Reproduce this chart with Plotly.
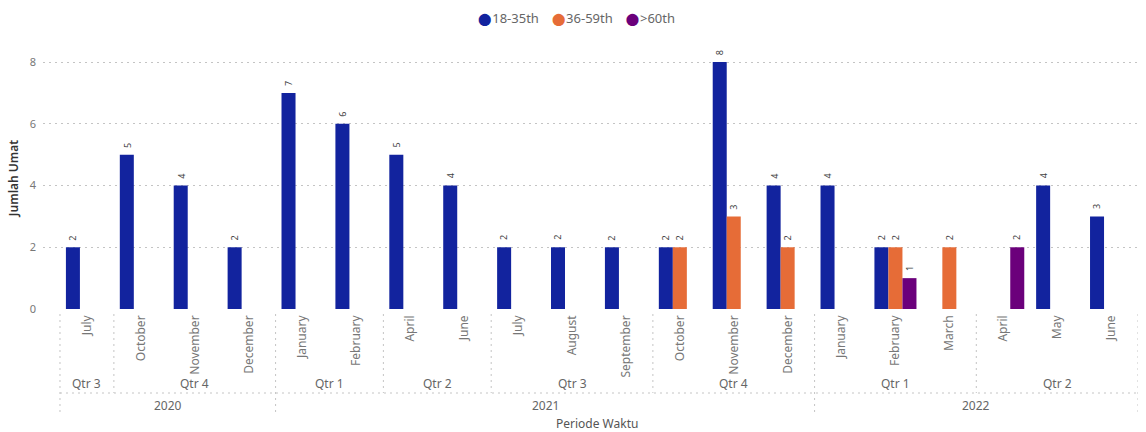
import plotly.graph_objects as go

# Monthly counts per age group, with the month / quarter / year hierarchy
months = ["July", "October", "November", "December",
          "January", "February", "April", "June",
          "July", "August", "September", "October", "November", "December",
          "January", "February", "March", "April", "May", "June"]
quarters = ["Qtr 3", "Qtr 4", "Qtr 4", "Qtr 4",
            "Qtr 1", "Qtr 1", "Qtr 2", "Qtr 2",
            "Qtr 3", "Qtr 3", "Qtr 3", "Qtr 4", "Qtr 4", "Qtr 4",
            "Qtr 1", "Qtr 1", "Qtr 1", "Qtr 2", "Qtr 2", "Qtr 2"]
years = ["2020"] * 4 + ["2021"] * 10 + ["2022"] * 6

age_18_35 = [2, 5, 4, 2, 7, 6, 5, 4, 2, 2, 2, 2, 8, 4, 4, 2, None, None, 4, 3]
age_36_59 = [None] * 11 + [2, 3, 2, None, 2, 2, None, None, None]
age_60 = [None] * 15 + [1, None, 2, None, None]

series = [("18-35th", age_18_35, "#12239E"),
          ("36-59th", age_36_59, "#E66C37"),
          (">60th", age_60, "#6B007B")]

FONT = "Segoe UI, Noto Sans, sans-serif"
W, H = 1146, 432
M_L, M_R, M_T, M_B = 43, 8, 47, 123
PLOT_W = W - M_L - M_R
PLOT_H = H - M_T - M_B
Y_MAX = 8.49
BARGAP = 0.22
X_MIN, X_MAX = -0.815, len(months) - 0.5


def py(pixel_y):
    """Convert a page pixel row to paper y."""
    return (H - M_B - pixel_y) / PLOT_H


def px(pixel_x):
    """Convert a page pixel column to paper x."""
    return (pixel_x - M_L) / PLOT_W


x = list(range(len(months)))
fig = go.Figure()
annotations = []
bar_w = (1 - BARGAP) / len(series)
for k, (name, vals, color) in enumerate(series):
    fig.add_trace(go.Bar(
        x=x, y=vals, name=name, marker=dict(color=color, line=dict(width=0)),
        showlegend=False, hoverinfo="x+y+name",
    ))
    # value labels above each bar, rotated like the category labels
    offset = (k - (len(series) - 1) / 2) * bar_w
    for i, v in enumerate(vals):
        if v is None:
            continue
        annotations.append(dict(
            x=i + offset, y=v, xref="x", yref="y", text=str(v),
            showarrow=False, textangle=-90, yanchor="bottom", yshift=5,
            font=dict(size=9, color="#444444", family=FONT)))

# legend row: coloured dots followed by series names (em spaces between items)
legend_html = "\u2003".join(
    f"<span style='color:{c}; font-family:DejaVu Sans; font-size:12px'>&#11044;</span>"
    f"<span style='font-size:3px'>&nbsp;</span>{n}"
    for n, _, c in series)
annotations.append(dict(x=px(576), y=py(18), xref="paper", yref="paper",
                        text=legend_html, showarrow=False,
                        xanchor="center", yanchor="middle",
                        font=dict(size=13, color="#666666", family=FONT)))


def runs(labels):
    out = []
    start = 0
    for i in range(1, len(labels) + 1):
        if i == len(labels) or labels[i] != labels[start]:
            out.append((start, i - 1, labels[start]))
            start = i
    return out


grid = "#c4c4c4"
quarter_keys = [y + q for y, q in zip(years, quarters)]
q_runs = runs(quarter_keys)
y_runs = runs(years)

shapes = []
for s, e, _ in q_runs:
    annotations.append(dict(x=(s + e) / 2, y=py(383), xref="x", yref="paper",
                            text=quarters[s], showarrow=False, yanchor="middle",
                            font=dict(size=12, color="#666666", family=FONT)))
for s, e, label in y_runs:
    annotations.append(dict(x=(s + e) / 2, y=py(405), xref="x", yref="paper",
                            text=label, showarrow=False, yanchor="middle",
                            font=dict(size=12, color="#666666", family=FONT)))

year_edges = {s - 0.5 for s, _, _ in y_runs} | {y_runs[-1][1] + 0.5}
quarter_edges = {s - 0.5 for s, _, _ in q_runs} | {q_runs[-1][1] + 0.5}
for edge in sorted(quarter_edges):
    bottom = 414 if edge in year_edges else 393
    shapes.append(dict(type="line", xref="x", yref="paper",
                       x0=edge, x1=edge, y0=py(314), y1=py(bottom),
                       line=dict(color=grid, width=1, dash="2px,4px")))
shapes.append(dict(type="line", xref="x", yref="paper",
                   x0=-0.5, x1=len(months) - 0.5, y0=py(393), y1=py(393),
                   line=dict(color=grid, width=1, dash="2px,4px")))

annotations.append(dict(x=px(597), y=py(423), xref="paper", yref="paper",
                        text="Periode Waktu", showarrow=False, yanchor="middle",
                        font=dict(size=12, color="#555555", family=FONT)))

fig.update_layout(
    width=W, height=H,
    margin=dict(l=M_L, r=M_R, t=M_T, b=M_B),
    paper_bgcolor="white", plot_bgcolor="white",
    barmode="group", bargap=BARGAP, bargroupgap=0,
    font=dict(family=FONT, color="#666666"),
    showlegend=False,
    xaxis=dict(range=[X_MIN, X_MAX], tickmode="array",
               tickvals=x, ticktext=months, tickangle=-90,
               tickfont=dict(size=12, color="#777777"),
               ticklabelstandoff=3,
               showgrid=False, zeroline=False, showline=False, ticks=""),
    yaxis=dict(range=[0, Y_MAX], tickvals=[0, 2, 4, 6, 8],
               tickfont=dict(size=11, color="#777777"),
               ticklabelstandoff=6,
               showgrid=True, gridcolor=grid, griddash="2px,4px", gridwidth=1,
               zeroline=False, showline=False, ticks="",
               title=dict(text="Jumlah Umat", standoff=8,
                          font=dict(size=12, color="#333333", weight=600))),
    annotations=annotations, shapes=shapes,
)

fig.write_html("out.html")
